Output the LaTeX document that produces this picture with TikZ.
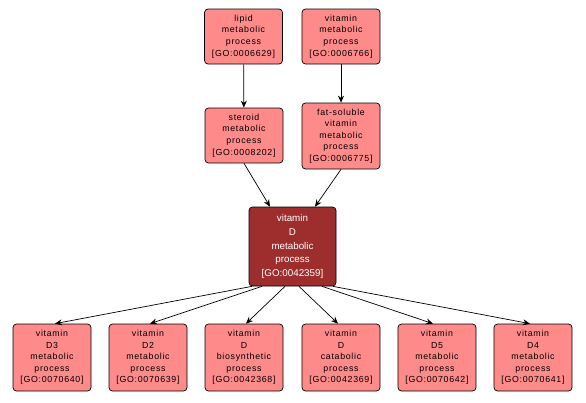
\documentclass[tikz,border=0pt]{standalone}
\usepackage{fontspec}
\setmainfont{Liberation Sans}
\newfontfamily\spacedfont[LetterSpace=8]{Liberation Sans}
\usetikzlibrary{arrows.meta}
\definecolor{lightgo}{RGB}{255,138,138}
\definecolor{darkgo}{RGB}{158,46,46}
\begin{document}
\begin{tikzpicture}[x=1pt,y=-1pt,
  gobox/.style={draw=black,line width=0.7pt,rounded corners=3.5pt,fill=lightgo,
    minimum width=78pt,text width=76pt,align=center,inner sep=0pt,
    font=\spacedfont\fontsize{8.8}{11.6}\selectfont},
  gomain/.style={gobox,fill=darkgo,text=white,minimum width=87pt,text width=85pt,
    font=\rmfamily\fontsize{9.8}{13.6}\selectfont},
  edge/.style={-{Stealth[length=7pt,width=6pt]},line width=0.7pt,black}]
\useasboundingbox (0,0) rectangle (586,402);
\node[gobox,minimum height=55pt] (lip) at (243.5,36.5) {lipid\\metabolic\\process\\{[}GO:0006629{]}};
\node[gobox,minimum height=55pt] (vit) at (341,36.5) {vitamin\\metabolic\\process\\{[}GO:0006766{]}};
\node[gobox,minimum height=55pt] (ster) at (244,135.5) {steroid\\metabolic\\process\\{[}GO:0008202{]}};
\node[gobox,minimum height=66pt] (fat) at (341,136) {fat-soluble\\vitamin\\metabolic\\process\\{[}GO:0006775{]}};
\node[gomain,minimum height=79pt] (vd) at (292.5,246.5) {vitamin\\D\\metabolic\\process\\{[}GO:0042359{]}};
\node[gobox,minimum height=67pt] (d3) at (52,357.5) {vitamin\\D3\\metabolic\\process\\{[}GO:0070640{]}};
\node[gobox,minimum height=67pt] (d2) at (148,357.5) {vitamin\\D2\\metabolic\\process\\{[}GO:0070639{]}};
\node[gobox,minimum height=67pt] (bio) at (244,357.5) {vitamin\\D\\biosynthetic\\process\\{[}GO:0042368{]}};
\node[gobox,minimum height=67pt] (cat) at (341,357.5) {vitamin\\D\\catabolic\\process\\{[}GO:0042369{]}};
\node[gobox,minimum height=67pt] (d5) at (437,357.5) {vitamin\\D5\\metabolic\\process\\{[}GO:0070642{]}};
\node[gobox,minimum height=67pt] (d4) at (533,357.5) {vitamin\\D4\\metabolic\\process\\{[}GO:0070641{]}};
\draw[edge] (lip) -- (ster);
\draw[edge] (vit) -- (fat);
\draw[edge] (ster.south) -- (vd.north -| 270,0);
\draw[edge] (fat.south) -- (vd.north -| 315,0);
\draw[edge] (vd.south -| 252,0) -- (d3.north -| 55,0);
\draw[edge] (vd.south -| 262,0) -- (d2.north -| 150,0);
\draw[edge] (vd.south -| 285,0) -- (bio.north -| 246,0);
\draw[edge] (vd.south -| 299,0) -- (cat.north -| 338,0);
\draw[edge] (vd.south -| 322,0) -- (d5.north -| 433,0);
\draw[edge] (vd.south -| 333,0) -- (d4.north -| 530,0);
\end{tikzpicture}
\end{document}
